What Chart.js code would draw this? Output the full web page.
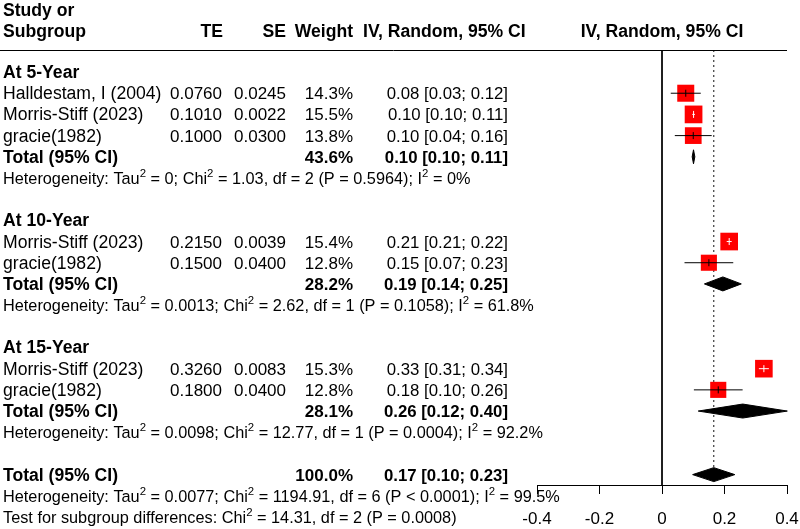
<!DOCTYPE html>
<html><head><meta charset="utf-8">
<script src="https://cdn.jsdelivr.net/npm/chart.js@4"></script>
<style>html,body{margin:0;padding:0;background:#fff;}#wrap{width:800px;height:529px;}</style>
</head><body><div id="wrap"><canvas id="c" width="800" height="529"></canvas></div>
<script>
// ---------- data ----------
const studyNames = ['Halldestam, I (2004)','Morris-Stiff (2023)','gracie(1982)','Morris-Stiff (2023)','gracie(1982)','Morris-Stiff (2023)','gracie(1982)'];
const studyRows = [1,2,3,8,9,14,15];
const studyTE = [0.0760,0.1010,0.1000,0.2150,0.1500,0.3260,0.1800];
const studySE = [0.0245,0.0022,0.0300,0.0039,0.0400,0.0083,0.0400];
const studyWeight = [14.3,15.5,13.8,15.4,12.8,15.3,12.8];
const studyLow = [0.028,0.097,0.041,0.207,0.072,0.310,0.102];
const studyHigh = [0.124,0.1053,0.159,0.223,0.228,0.342,0.258];

const groupNames = ['At 5-Year','At 10-Year','At 15-Year'];
const groupHeadRows = [0,7,13];
const groupTotalRows = [4,10,16];
const groupHetRows = [5,11,17];
const groupWeight = [43.6,28.2,28.1];
const groupEst = [0.1008,0.1947,0.2583];
const groupLow = [0.0965,0.1357,0.1160];
const groupHigh = [0.1051,0.2537,0.4010];
const groupTau2 = ['0','0.0013','0.0098'];
const groupChi2 = ['1.03','2.62','12.77'];
const groupDf = ['2','1','1'];
const groupP = ['= 0.5964','= 0.1058','= 0.0004'];
const groupI2 = ['0%','61.8%','92.2%'];

const overallRow = 19;
const overallWeight = 100.0;
const overallEst = 0.1657;
const overallLow = 0.098;
const overallHigh = 0.233;
const overallHetRow = 20;
const overallTau2 = '0.0077';
const overallChi2 = '1194.91';
const overallDf = '6';
const overallP = '< 0.0001';
const overallI2 = '99.5%';
const testRow = 21;
const testChi2 = '14.31';
const testDf = '2';
const testP = '= 0.0008';

const xTickValues = [-0.4,-0.2,0,0.2,0.4];
const xTickLabels = ['-0.4','-0.2','0','0.2','0.4'];

// ---------- layout / style ----------
const ROW_MIN = -1.04, ROW_MAX = 19.49;
const PX_PER_UNIT = 312.5;
const SQUARE_K = 4.5;
const DIAMOND_H = 0.33;
const FONT = '"Liberation Sans", Arial, Helvetica, sans-serif';
const FS = 17;          // numbers
const NAME_FS = 17.6;   // study names
const BOLD_FS = 17.6;   // bold labels
const CI_FS = 16.8;
const HET_FS = 16.3;
const BASE = 6;

const datasets = [];
datasets.push({type:'line', data:[{x:0,y:ROW_MIN},{x:0,y:ROW_MAX}], borderColor:'#000', backgroundColor:'#000', borderWidth:1, pointRadius:0, order:6, clip:false});
datasets.push({type:'line', data:[{x:overallEst,y:ROW_MIN},{x:overallEst,y:overallRow-DIAMOND_H}], borderColor:'#111', backgroundColor:'#111', borderWidth:1, borderDash:[2,3], pointRadius:0, order:5, clip:false});

const sides = studyWeight.map(w => SQUARE_K*Math.sqrt(w));
const insideFlags = studyTE.map((v,i) => (studyHigh[i]-studyLow[i])*PX_PER_UNIT < sides[i]);
datasets.push({type:'scatter', data: studyTE.map((v,i)=>({x:v,y:studyRows[i]})), pointStyle:'rect',
  pointRadius: sides.map(s=>s/Math.SQRT2), pointHoverRadius: sides.map(s=>s/Math.SQRT2),
  backgroundColor:'#ff0000', borderColor:'#ff0000', pointBackgroundColor:'#ff0000', pointBorderWidth:0, order:3, clip:false});
studyTE.forEach((v,i)=>{
  datasets.push({type:'line', data:[{x:studyLow[i],y:studyRows[i]},{x:studyHigh[i],y:studyRows[i]}],
    borderColor: insideFlags[i]?'#fff':'#000', backgroundColor: insideFlags[i]?'#fff':'#000', borderWidth:1, pointRadius:0, order:2, clip:false});
});
datasets.push({type:'scatter', data: studyTE.map((v,i)=>({x:v,y:studyRows[i]})), pointStyle:'line', pointRotation:90,
  pointRadius:3.5, pointHoverRadius:3.5, borderColor: insideFlags.map(f=>f?'#fff':'#000'), pointBorderColor: insideFlags.map(f=>f?'#fff':'#000'),
  backgroundColor:'#000', pointBorderWidth:1, order:1, clip:false});

function diamond(est, lo, hi, row){
  return [{x:lo,y:row},{x:est,y:row-DIAMOND_H},{x:hi,y:row},{x:est,y:row+DIAMOND_H},{x:lo,y:row}];
}
groupEst.forEach((e,i)=>{
  datasets.push({type:'line', data: diamond(e, groupLow[i], groupHigh[i], groupTotalRows[i]), fill:'shape',
    borderColor:'#000', backgroundColor:'#000', borderWidth:1, pointRadius:0, tension:0, order:4, clip:false});
});
datasets.push({type:'line', data: diamond(overallEst, overallLow, overallHigh, overallRow), fill:'shape',
  borderColor:'#000', backgroundColor:'#000', borderWidth:1, pointRadius:0, tension:0, order:4, clip:false});

function f2(v){ return v.toFixed(2); }
function ciText(e,l,h){ return f2(e)+' ['+f2(l)+'; '+f2(h)+']'; }

function drawRuns(ctx, x, y, runs){
  for (const r of runs){
    if (r.sup){
      ctx.font = (HET_FS*0.7).toFixed(1)+'px '+FONT;
      ctx.fillText(r.t, x, y-7);
    } else {
      ctx.font = HET_FS+'px '+FONT;
      ctx.fillText(r.t, x, y);
    }
    x += ctx.measureText(r.t).width;
  }
}
function hetRuns(tau, chi, df, p, i2){
  return [{t:'Heterogeneity: Tau'},{t:'2',sup:true},{t:' = '+tau+'; Chi'},{t:'2',sup:true},
    {t:' = '+chi+', df = '+df+' (P '+p+'); I'},{t:'2',sup:true},{t:' = '+i2}];
}

const textPlugin = {
  id:'forestText',
  afterDraw(chart){
    const ctx = chart.ctx, ys = chart.scales.y, xs = chart.scales.x;
    const Y = r => ys.getPixelForValue(r) + BASE;
    ctx.save();
    ctx.fillStyle = '#000';
    ctx.textBaseline = 'alphabetic';
    const bold = 'bold '+BOLD_FS+'px '+FONT, boldNum = 'bold '+FS+'px '+FONT, boldCI = 'bold '+CI_FS+'px '+FONT;
    const reg = FS+'px '+FONT, name = NAME_FS+'px '+FONT, ci = CI_FS+'px '+FONT;
    // header
    ctx.font = bold; ctx.textAlign = 'left';
    ctx.fillText('Study or', 3, Y(-2.95));
    ctx.fillText('Subgroup', 3, Y(-1.95));
    ctx.textAlign = 'right';
    ctx.fillText('TE', 223, Y(-1.95));
    ctx.fillText('SE', 286, Y(-1.95));
    ctx.fillText('Weight', 353, Y(-1.95));
    ctx.textAlign = 'left';
    ctx.fillText('IV, Random, 95% CI', 363, Y(-1.95));
    ctx.textAlign = 'center';
    ctx.fillText('IV, Random, 95% CI', xs.getPixelForValue(0), Y(-1.95));
    // header rule
    ctx.strokeStyle = '#000'; ctx.lineWidth = 1;
    ctx.beginPath(); ctx.moveTo(0, ys.top+0.5); ctx.lineTo(xs.right, ys.top+0.5); ctx.stroke();
    // studies
    studyNames.forEach((n,i)=>{
      const y = Y(studyRows[i]);
      ctx.font = name; ctx.textAlign='left'; ctx.fillText(n, 3, y);
      ctx.font = reg; ctx.textAlign='right';
      ctx.fillText(studyTE[i].toFixed(4), 222, y);
      ctx.fillText(studySE[i].toFixed(4), 286, y);
      ctx.fillText(studyWeight[i].toFixed(1)+'%', 353, y);
      ctx.font = ci;
      ctx.fillText(ciText(studyTE[i], studyLow[i], studyHigh[i]), 508, y);
    });
    // groups
    groupNames.forEach((g,i)=>{
      ctx.font = bold; ctx.textAlign='left';
      ctx.fillText(g, 3, Y(groupHeadRows[i]));
      const ty = Y(groupTotalRows[i]);
      ctx.fillText('Total (95% CI)', 3, ty);
      ctx.textAlign='right';
      ctx.font = boldNum;
      ctx.fillText(groupWeight[i].toFixed(1)+'%', 353, ty);
      ctx.font = boldCI;
      ctx.fillText(ciText(groupEst[i], groupLow[i], groupHigh[i]), 508, ty);
      ctx.textAlign='left';
      drawRuns(ctx, 3, Y(groupHetRows[i]), hetRuns(groupTau2[i], groupChi2[i], groupDf[i], groupP[i], groupI2[i]));
    });
    // overall
    ctx.font = bold; ctx.textAlign='left';
    ctx.fillText('Total (95% CI)', 3, Y(overallRow));
    ctx.textAlign='right';
    ctx.font = boldNum;
    ctx.fillText(overallWeight.toFixed(1)+'%', 353, Y(overallRow));
    ctx.font = boldCI;
    ctx.fillText(ciText(overallEst, overallLow, overallHigh), 508, Y(overallRow));
    ctx.textAlign='left';
    drawRuns(ctx, 3, Y(overallHetRow), hetRuns(overallTau2, overallChi2, overallDf, overallP, overallI2));
    drawRuns(ctx, 3, Y(testRow), [{t:'Test for subgroup differences: Chi'},{t:'2',sup:true},{t:' = '+testChi2+', df = '+testDf+' (P '+testP+')'}]);
    ctx.restore();
  }
};

new Chart(document.getElementById('c'), {
  type:'scatter',
  data:{datasets},
  options:{
    responsive:false, animation:false, devicePixelRatio:1,
    layout:{padding:{left:537, right:13, top:50, bottom:0}},
    plugins:{legend:{display:false}, tooltip:{enabled:false}, colors:{enabled:false}},
    scales:{
      x:{type:'linear', min:-0.4, max:0.4,
        afterBuildTicks: s => { s.ticks = xTickValues.map(v=>({value:v})); },
        ticks:{callback:(v,i)=>xTickLabels[i], color:'#000', font:{family:FONT, size:FS}, padding:15, maxRotation:0, autoSkip:false},
        grid:{display:true, drawOnChartArea:false, drawTicks:true, tickLength:9, color:'#000', lineWidth:1},
        border:{display:true, color:'#000', width:1},
        afterFit: s => { s.height = 44; s.paddingLeft = 0; s.paddingRight = 0; }
      },
      y:{type:'linear', display:false, reverse:true, min:ROW_MIN, max:ROW_MAX}
    }
  },
  plugins:[textPlugin]
});
</script></body></html>
